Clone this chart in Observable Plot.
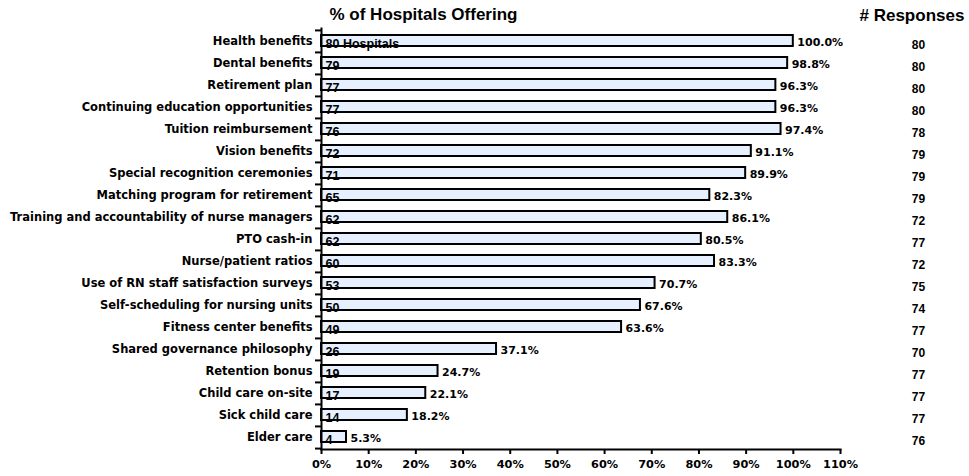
<!DOCTYPE html>
<html><head><meta charset="utf-8">
<script src="https://cdn.jsdelivr.net/npm/d3@7"></script>
<script src="https://cdn.jsdelivr.net/npm/@observablehq/plot@0.6"></script>
<style>body{margin:0;background:#fff}</style>
</head><body><div id="chart"></div>
<script>
const categories = [
  "Health benefits","Dental benefits","Retirement plan","Continuing education opportunities",
  "Tuition reimbursement","Vision benefits","Special recognition ceremonies",
  "Matching program for retirement","Training and accountability of nurse managers",
  "PTO cash-in","Nurse/patient ratios","Use of RN staff satisfaction surveys",
  "Self-scheduling for nursing units","Fitness center benefits","Shared governance philosophy",
  "Retention bonus","Child care on-site","Sick child care","Elder care"
];
const percentOffering = [100.0,98.8,96.3,96.3,97.4,91.1,89.9,82.3,86.1,80.5,83.3,70.7,67.6,63.6,37.1,24.7,22.1,18.2,5.3];
const hospitalsOffering = [80,79,77,77,76,72,71,65,62,62,60,53,50,49,26,19,17,14,4];
const responses = [80,80,80,80,78,79,79,79,72,77,72,75,74,77,70,77,77,77,76];
const xTicks = [0,10,20,30,40,50,60,70,80,90,100,110];
const titleLeft = "% of Hospitals Offering";
const titleRight = "# Responses";

const data = categories.map((c, i) => ({
  category: c,
  pct: percentOffering[i],
  count: i === 0 ? `${hospitalsOffering[i]} Hospitals` : `${hospitalsOffering[i]}`,
  resp: responses[i]
}));

const step = (476 - 28 - 27) / categories.length;

const plot = Plot.plot({
  width: 969, height: 476,
  marginTop: 28, marginBottom: 27, marginLeft: 321, marginRight: 129,
  style: {fontFamily: "DejaVu Sans", fontWeight: "bold", fontSize: "11px", color: "#000", background: "#fff", overflow: "visible"},
  x: {domain: [0, 110], axis: null, label: null},
  y: {domain: categories, padding: 0, axis: null, label: null},
  marks: [
    Plot.barX(data, {x: "pct", y: "category", fill: "#E6F0FF", stroke: "#000", strokeWidth: 2, insetTop: 5, insetBottom: 6}),
    Plot.text(data, {x: 0, y: "category", text: "count", textAnchor: "start", dx: 4, dy: 6.5, lineAnchor: "bottom",
      fontFamily: "Liberation Sans", fontWeight: "bold", fontSize: 12.5}),
    Plot.text(data, {x: "pct", y: "category", text: d => d.pct.toFixed(1) + "%", textAnchor: "start", dx: 4, dy: 4.5, lineAnchor: "bottom",
      fontFamily: "DejaVu Sans", fontWeight: "bold", fontSize: 11, ariaLabel: "pct-label"}),
    Plot.text(data, {y: "category", text: "resp", frameAnchor: "right", dx: 78, dy: 7.5, lineAnchor: "bottom", textAnchor: "middle",
      fontFamily: "Liberation Sans", fontWeight: "bold", fontSize: 12}),
    Plot.text([titleLeft], {text: d => d, frameAnchor: "top-left", textAnchor: "start", lineAnchor: "bottom", dx: 8, dy: -9,
      fontFamily: "Liberation Sans", fontWeight: "bold", fontSize: 17}),
    Plot.text([titleRight], {text: d => d, frameAnchor: "top-right", textAnchor: "start", lineAnchor: "bottom", dx: 19, dy: -8,
      fontFamily: "Liberation Sans", fontWeight: "bold", fontSize: 17}),
    Plot.axisY({tickSize: 0, tickPadding: 9, label: null, fontSize: 11.5, fontFamily: "DejaVu Sans", fontWeight: "bold"}),
    Plot.axisY({tickSize: 6, tickFormat: () => "", label: null, dy: -step / 2, strokeWidth: 2}),
    Plot.axisY([categories[categories.length - 1]], {tickSize: 6, tickFormat: () => "", label: null, dy: step / 2, strokeWidth: 2}),
    Plot.axisX(xTicks, {tickSize: 5, tickPadding: 5, tickFormat: d => d + "%", label: null, strokeWidth: 2,
      fontSize: 11.3, fontFamily: "DejaVu Sans", fontWeight: "bold"}),
    Plot.frame({anchor: "left", strokeWidth: 2}),
    Plot.frame({anchor: "bottom", strokeWidth: 2})
  ]
});
document.getElementById("chart").appendChild(plot);
d3.select(plot).selectAll('g[aria-label="pct-label"] text').style("letter-spacing", "1.2px");
</script>
</body></html>
